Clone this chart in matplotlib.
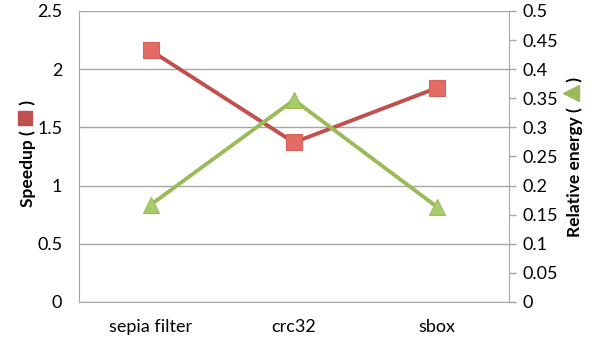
import numpy as np
import matplotlib
matplotlib.use("Agg")
import matplotlib.pyplot as plt
from matplotlib.ticker import FuncFormatter

plt.rcParams['font.family'] = ['Lato', 'DejaVu Sans']

categories = ["sepia filter", "crc32", "sbox"]
speedup = [2.16, 1.37, 1.84]
energy = [0.167, 0.347, 0.163]

red_line = "#C0504D"
red_mark = "#E46C67"
green_line = "#9BBB59"
green_mark = "#A9CC6B"
grid_gray = "#A6A6A6"

fig = plt.figure(figsize=(6.0, 3.41), dpi=100)
ax = fig.add_axes([0.1317, 0.1144, 0.7166, 0.8536])
ax2 = ax.twinx()

x = np.arange(len(categories))
ax.plot(x, speedup, color=red_line, lw=2.8, marker="s", ms=11,
        mfc=red_mark, mec="#D9605B", mew=0.8, zorder=3)
ax2.plot(x, energy, color=green_line, lw=2.8, marker="^", ms=12,
         mfc=green_mark, mec="#9BBB59", mew=0.8, zorder=3)

ax.set_xlim(-0.5, 2.5)
ax.set_ylim(0, 2.5)
ax.set_yticks(np.arange(0, 2.51, 0.5))
ax2.set_ylim(0, 0.5)
ax2.set_yticks(np.arange(0, 0.501, 0.05))

ax.yaxis.set_major_formatter(FuncFormatter(lambda v, p: f"{v:g}"))
ax2.yaxis.set_major_formatter(FuncFormatter(lambda v, p: f"{round(v, 2):g}"))

ax.set_xticks(x)
ax.set_xticklabels(categories)
ax.grid(axis="y", color=grid_gray, lw=1)
ax.set_axisbelow(True)

for a in (ax, ax2):
    for s in a.spines.values():
        s.set_visible(False)
ax.spines["left"].set_visible(True)
ax.spines["left"].set_color(grid_gray)
ax.spines["bottom"].set_visible(True)
ax.spines["bottom"].set_color(grid_gray)
ax2.spines["right"].set_visible(True)
ax2.spines["right"].set_color(grid_gray)

ax.tick_params(axis="y", length=0, pad=12, labelsize=13)
ax.tick_params(axis="x", length=0, pad=12, labelsize=13)
ax2.tick_params(axis="y", length=5, width=1, color=grid_gray, pad=5, labelsize=13)

# axis titles with the series marker drawn inside the brackets
fig.text(0.046, 0.55, "Speedup (      )", rotation=90, ha="center", va="center",
         fontsize=12.5, fontweight="bold")
fig.lines.append(plt.Line2D([0.042], [0.654], marker="s", ms=10.5, color=red_line,
                            mfc="#C0504D", mec="#C0504D", transform=fig.transFigure))
fig.text(0.958, 0.54, "Relative energy (      )", rotation=90, ha="center", va="center",
         fontsize=12.5, fontweight="bold")
fig.lines.append(plt.Line2D([0.951], [0.727], marker="<", ms=11, color=green_line,
                            mfc="#9BBB59", mec="#9BBB59", transform=fig.transFigure))

fig.savefig("out.png", dpi=100)
